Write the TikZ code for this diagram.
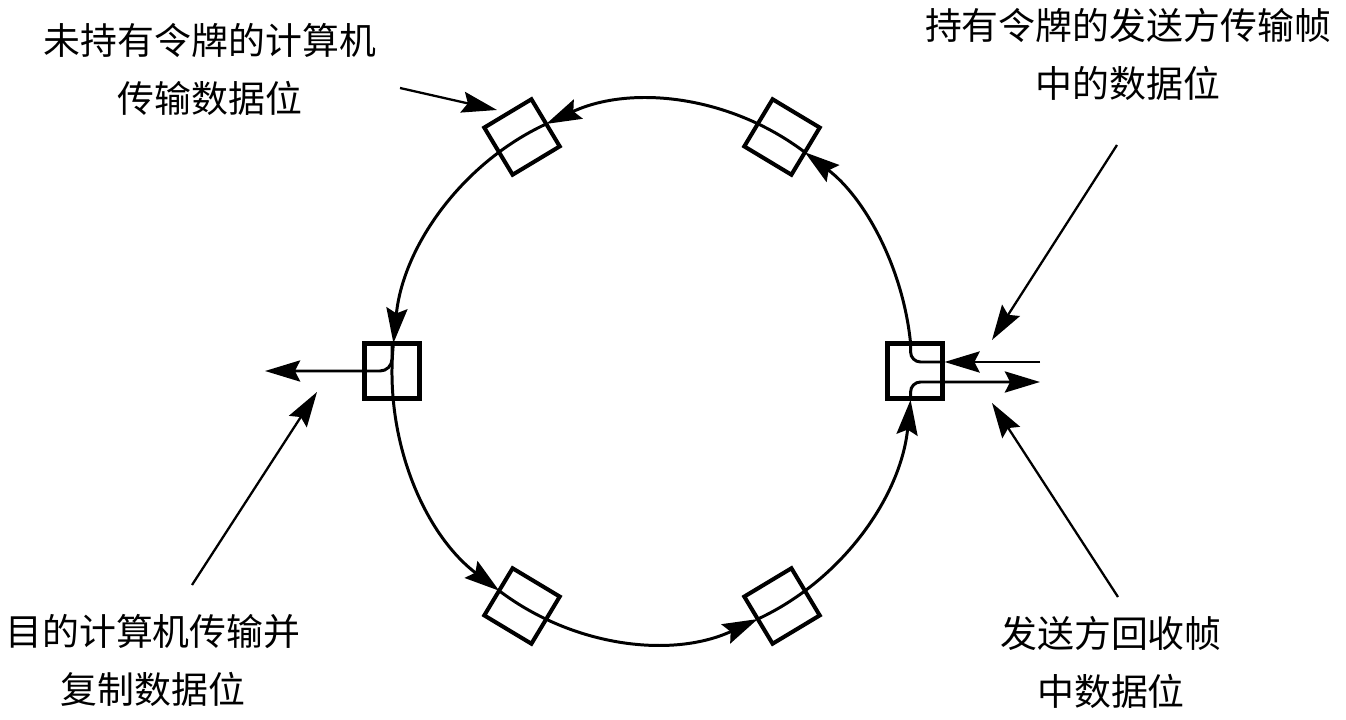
\documentclass[tikz,border=0pt]{standalone}
\usepackage{fontspec}
\newfontfamily\cjk{Noto Sans CJK SC}
\usetikzlibrary{arrows.meta,calc}
\tikzset{station/.style={draw, line width=2.3pt, minimum size=1.1cm, inner sep=0pt},
  ring/.style={line width=1.7pt},
  flow/.style={ring, -{Stealth[length=20pt,width=12pt,inset=3pt]}},
  pointer/.style={line width=1.3pt, -{Stealth[length=20pt,width=12pt,inset=3pt]}},
  note/.style={font=\cjk\fontsize{21pt}{33pt}\selectfont, align=center, inner sep=0pt}}

\begin{document}
\begin{tikzpicture}[x=0.02cm, y=0.02cm]
  \useasboundingbox (0,0) rectangle (1346,720);
  \coordinate (ctr) at (652,348.5);
  \node[station] (s0) at (915,349) {};
  \node[station, rotate=-31] (s1) at (782,583) {};
  \node[station, rotate=31] (s2) at (522,583) {};
  \node[station] (s3) at (392,349) {};
  \node[station, rotate=-31] (s4) at (522,114) {};
  \node[station, rotate=31] (s5) at (782,114) {};
  \foreach \s/\e in {294/354, 6/54, 54/114, 114/174, 174/234, 234/294}
    \draw[flow] ($(ctr)+(\s:260 and 271)$) arc[start angle=\s, end angle=\e, x radius=260, y radius=271];
  \coordinate (sendin) at (1040,358);
  \coordinate (sendout) at (1040,338);
  \draw[flow] (sendin) -- (s0.east |- sendin);
  \draw[ring, rounded corners=0.2cm] (s0.east |- sendin) -| ($(ctr)+(6:260 and 271)$);
  \draw[flow, rounded corners=0.2cm] ($(ctr)+(354:260 and 271)$) |- (sendout);
  \coordinate (copyout) at (265,349);
  \draw[flow, rounded corners=0.24cm] (s3.north) |- (copyout);
  \coordinate (p1a) at (400,632);
  \coordinate (p1b) at (497,610);
  \coordinate (p2a) at (1117,575);
  \coordinate (p2b) at (992,380);
  \coordinate (p3a) at (192,135);
  \coordinate (p3b) at (317,328);
  \coordinate (p4a) at (1118,123);
  \coordinate (p4b) at (992,317);
  \draw[pointer] (p1a) -- (p1b);
  \draw[pointer] (p2a) -- (p2b);
  \draw[pointer] (p3a) -- (p3b);
  \draw[pointer] (p4a) -- (p4b);
  \node[note] (n1) at (210,651) {未持有令牌的计算机\\传输数据位};
  \node[note] (n2) at (1128,666) {持有令牌的发送方传输帧\\中的数据位};
  \node[note] (n3) at (153,60) {目的计算机传输并\\复制数据位};
  \node[note] (n4) at (1111,58) {发送方回收帧\\中数据位};
\end{tikzpicture}
\end{document}
